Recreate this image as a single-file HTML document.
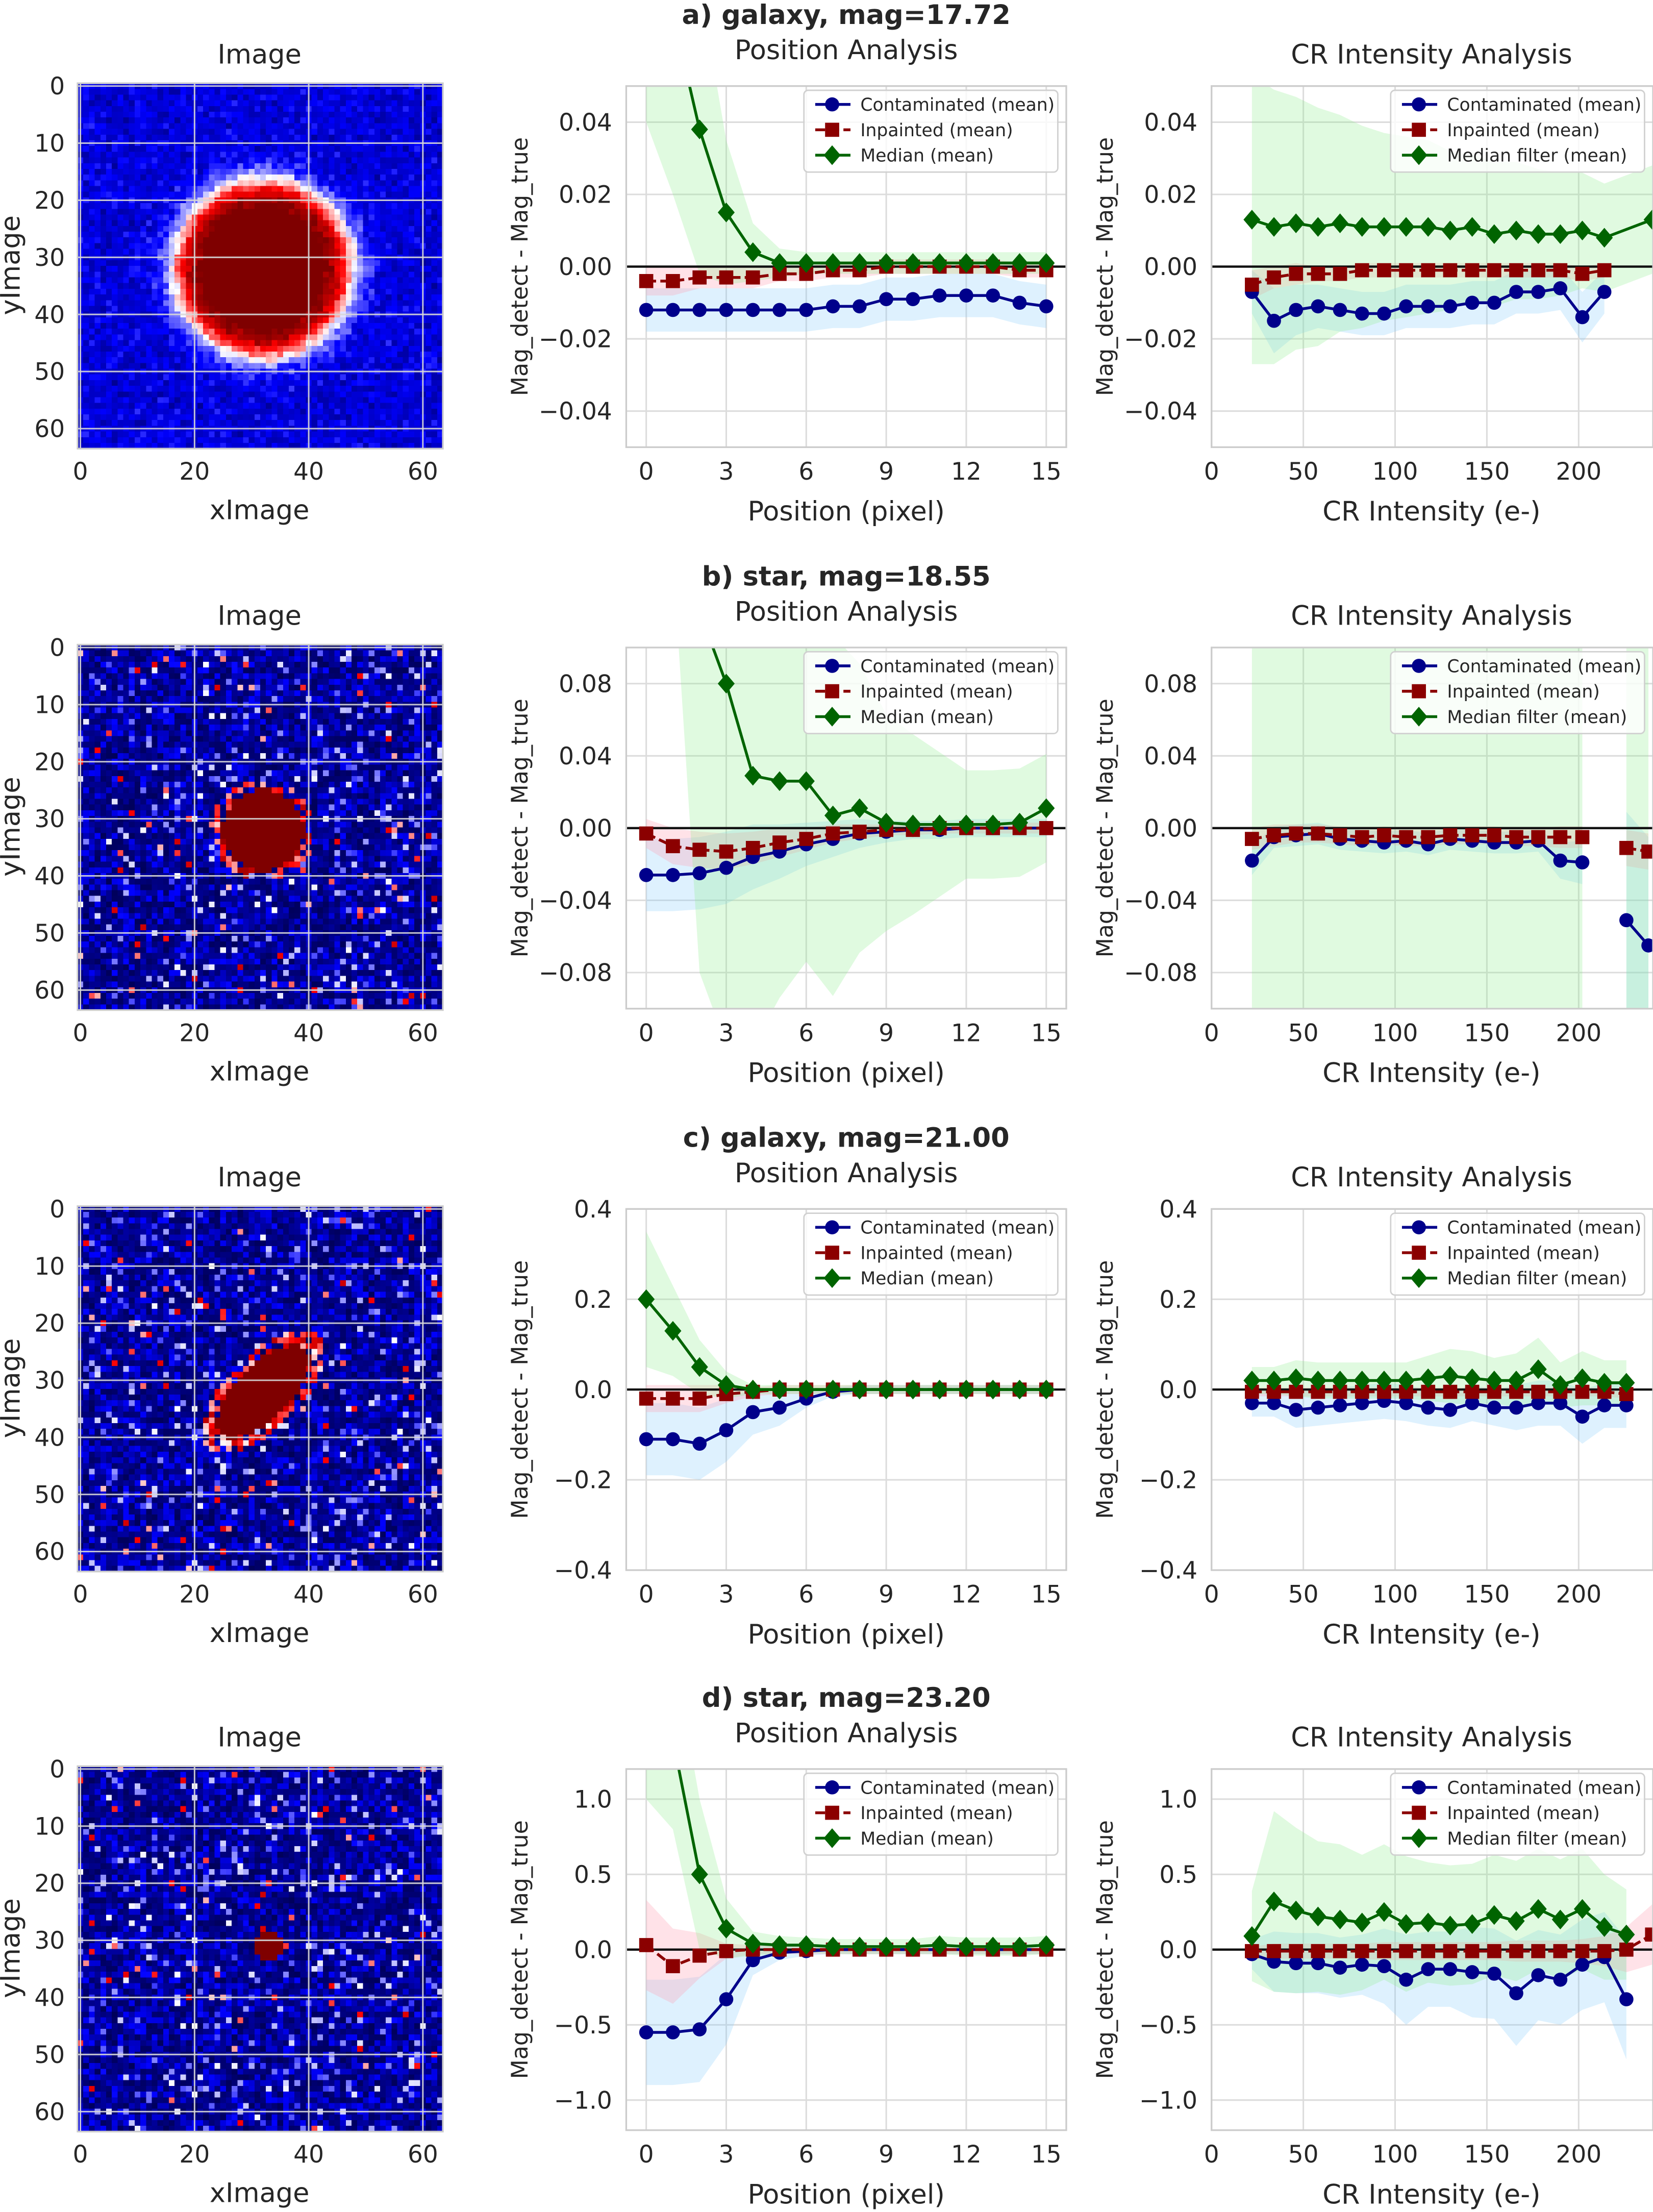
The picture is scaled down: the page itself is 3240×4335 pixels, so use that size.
<!DOCTYPE html>
<html><head><meta charset="utf-8">
<style>
html,body{margin:0;padding:0;background:#fff;}
#root{position:relative;width:1172px;height:1568px;transform:scale(2.76451,2.76467);transform-origin:0 0;overflow:hidden;}
canvas{position:absolute;image-rendering:pixelated;}
svg{position:absolute;left:0;top:0;}
text{font-family:"DejaVu Sans","Liberation Sans",sans-serif;fill:#262626;}
</style></head>
<body>
<div id="root">
<svg id="svg" width="1172" height="1568" viewBox="0 0 1172 1568"></svg>
</div>
<script>
// ---------- data ----------
const rowTitles = ["a) galaxy, mag=17.72","b) star, mag=18.55","c) galaxy, mag=21.00","d) star, mag=23.20"];
const posX = [0,1,2,3,4,5,6,7,8,9,10,11,12,13,14,15];
const posTicks = [0,3,6,9,12,15];
const crTicks = [0,50,100,150,200];
const imgTicksX = [0,20,40,60];
const imgTicksY = [0,10,20,30,40,50,60];
const yLims = [0.05,0.1,0.4,1.2];
const yTicksA = [0.04,0.02,0,-0.02,-0.04];
const yTicksB = [0.08,0.04,0,-0.04,-0.08];
const yTicksC = [0.4,0.2,0,-0.2,-0.4];
const yTicksD = [1.0,0.5,0,-0.5,-1.0];
const yTickLabelsA = ["0.04","0.02","0.00","−0.02","−0.04"];
const yTickLabelsB = ["0.08","0.04","0.00","−0.04","−0.08"];
const yTickLabelsC = ["0.4","0.2","0.0","−0.2","−0.4"];
const yTickLabelsD = ["1.0","0.5","0.0","−0.5","−1.0"];

// row a position
const aPosCont = [-0.012,-0.012,-0.012,-0.012,-0.012,-0.012,-0.012,-0.011,-0.011,-0.009,-0.009,-0.008,-0.008,-0.008,-0.010,-0.011];
const aPosInp  = [-0.004,-0.004,-0.003,-0.003,-0.003,-0.002,-0.002,-0.001,-0.001,0,0,0,0,0,-0.001,-0.001];
const aPosMed  = [0.10,0.07,0.038,0.015,0.004,0.001,0.001,0.001,0.001,0.001,0.001,0.001,0.001,0.001,0.001,0.001];
const aPosContS = [0.006,0.006,0.006,0.006,0.006,0.006,0.006,0.006,0.006,0.006,0.006,0.006,0.006,0.006,0.006,0.006];
const aPosInpS  = [0.004,0.004,0.003,0.003,0.003,0.002,0.002,0.002,0.002,0.002,0.002,0.002,0.002,0.002,0.002,0.002];
const aPosMedS  = [0.06,0.05,0.04,0.02,0.008,0.004,0.003,0.003,0.003,0.003,0.003,0.003,0.003,0.003,0.003,0.003];
// row a cr
const aCrX   = [22,34,46,58,70,82,94,106,118,130,142,154,166,178,190,202,214,240];
const aCrCont= [-0.007,-0.015,-0.012,-0.011,-0.012,-0.013,-0.013,-0.011,-0.011,-0.011,-0.010,-0.010,-0.007,-0.007,-0.006,-0.014,-0.007,NaN];
const aCrInp = [-0.005,-0.003,-0.002,-0.002,-0.002,-0.001,-0.001,-0.001,-0.001,-0.001,-0.001,-0.001,-0.001,-0.001,-0.001,-0.002,-0.001,NaN];
const aCrMed = [0.013,0.011,0.012,0.011,0.012,0.011,0.011,0.011,0.011,0.010,0.011,0.009,0.010,0.009,0.009,0.010,0.008,0.013];
const aCrContS=[0.006,0.009,0.007,0.006,0.006,0.006,0.006,0.006,0.006,0.006,0.006,0.006,0.006,0.006,0.006,0.007,0.006,NaN];
const aCrInpS= [0.004,0.003,0.003,0.002,0.002,0.002,0.002,0.002,0.002,0.002,0.002,0.002,0.002,0.002,0.002,0.002,0.002,NaN];
const aCrMedS= [0.04,0.038,0.035,0.033,0.03,0.028,0.026,0.025,0.024,0.022,0.02,0.02,0.019,0.018,0.017,0.016,0.015,0.015];
// row b position
const bPosCont = [-0.026,-0.026,-0.025,-0.022,-0.016,-0.013,-0.009,-0.006,-0.003,-0.002,-0.001,-0.001,0,0,0,0];
const bPosInp  = [-0.003,-0.010,-0.012,-0.013,-0.011,-0.008,-0.006,-0.003,-0.002,-0.001,-0.001,0,0,0,0,0];
const bPosMed  = [0.20,0.15,0.12,0.080,0.029,0.026,0.026,0.007,0.011,0.003,0.002,0.002,0.002,0.002,0.003,0.011];
const bPosContS = [0.02,0.02,0.02,0.02,0.018,0.015,0.012,0.01,0.008,0.006,0.005,0.005,0.005,0.005,0.005,0.005];
const bPosInpS  = [0.008,0.010,0.010,0.010,0.009,0.008,0.006,0.005,0.004,0.003,0.003,0.003,0.003,0.003,0.003,0.003];
const bPosMedS  = [0,0,0.2,0.2,0.15,0.12,0.1,0.1,0.08,0.06,0.05,0.04,0.03,0.03,0.03,0.03];
// row b cr
const bCrX   = [22,34,46,58,70,82,94,106,118,130,142,154,166,178,190,202,214,226,238];
const bCrCont= [-0.018,-0.005,-0.004,-0.003,-0.006,-0.007,-0.008,-0.007,-0.009,-0.006,-0.007,-0.008,-0.008,-0.007,-0.018,-0.019,NaN,-0.051,-0.065];
const bCrInp = [-0.006,-0.004,-0.003,-0.003,-0.004,-0.005,-0.004,-0.005,-0.005,-0.004,-0.004,-0.004,-0.005,-0.005,-0.005,-0.005,NaN,-0.011,-0.013];
const bCrMed = [0.3,0.3,0.3,0.3,0.3,0.3,0.3,0.3,0.3,0.3,0.3,0.3,0.3,0.3,0.3,0.3,NaN,0.3,0.3];
const bCrContS=[0.008,0.006,0.006,0.006,0.006,0.006,0.006,0.006,0.006,0.006,0.006,0.006,0.006,0.006,0.01,0.012,NaN,0.06,0.06];
const bCrInpS= [0.006,0.006,0.005,0.005,0.005,0.005,0.005,0.005,0.005,0.005,0.005,0.005,0.005,0.005,0.006,0.006,NaN,0.01,0.01];
const bCrMedS= [1,1,1,1,1,1,1,1,1,1,1,1,1,1,1,1,NaN,1,1];
// row c position
const cPosCont = [-0.11,-0.11,-0.12,-0.09,-0.05,-0.04,-0.02,-0.005,0,0,0,0,0,0,0,0];
const cPosInp  = [-0.02,-0.02,-0.02,-0.01,-0.005,0,0,0,0,0,0,0,0,0,0,0];
const cPosMed  = [0.20,0.13,0.05,0.01,0,0,0,0,0,0,0,0,0,0,0,0];
const cPosContS = [0.08,0.08,0.08,0.07,0.05,0.04,0.02,0.01,0.01,0.01,0.01,0.01,0.01,0.01,0.01,0.01];
const cPosInpS  = [0.03,0.03,0.03,0.02,0.01,0.01,0.01,0.01,0.01,0.01,0.01,0.01,0.01,0.01,0.01,0.01];
const cPosMedS  = [0.15,0.1,0.06,0.03,0.01,0.01,0.01,0.01,0.01,0.01,0.01,0.01,0.01,0.01,0.01,0.01];
// row c cr
const cCrX   = [22,34,46,58,70,82,94,106,118,130,142,154,166,178,190,202,214,226];
const cCrCont= [-0.03,-0.03,-0.045,-0.04,-0.035,-0.03,-0.025,-0.03,-0.04,-0.045,-0.03,-0.04,-0.04,-0.03,-0.03,-0.06,-0.035,-0.035];
const cCrInp = [-0.005,-0.005,-0.005,-0.005,-0.005,-0.005,-0.005,-0.005,-0.005,-0.005,-0.005,-0.005,-0.005,-0.005,-0.005,-0.005,-0.005,-0.01];
const cCrMed = [0.02,0.02,0.025,0.02,0.02,0.02,0.02,0.02,0.025,0.03,0.025,0.02,0.02,0.045,0.01,0.025,0.015,0.015];
const cCrContS=[0.03,0.03,0.04,0.04,0.04,0.04,0.04,0.04,0.04,0.04,0.04,0.04,0.05,0.05,0.05,0.06,0.05,0.05];
const cCrInpS= [0.01,0.01,0.01,0.01,0.01,0.01,0.01,0.01,0.01,0.01,0.01,0.01,0.01,0.01,0.01,0.01,0.01,0.01];
const cCrMedS= [0.03,0.03,0.04,0.04,0.04,0.04,0.04,0.04,0.05,0.06,0.06,0.05,0.06,0.07,0.05,0.06,0.05,0.05];
// row d position
const dPosCont = [-0.55,-0.55,-0.53,-0.33,-0.07,-0.02,-0.01,0,0,0,0,0,0,0,0,0];
const dPosInp  = [0.03,-0.11,-0.04,-0.01,0,0,0,0,0,0,0,0,0,0,0,0];
const dPosMed  = [1.6,1.4,0.50,0.14,0.04,0.03,0.03,0.02,0.02,0.02,0.02,0.03,0.02,0.02,0.02,0.03];
const dPosContS = [0.35,0.35,0.35,0.3,0.1,0.05,0.03,0.03,0.03,0.03,0.03,0.03,0.03,0.03,0.03,0.03];
const dPosInpS  = [0.3,0.25,0.15,0.05,0.03,0.03,0.03,0.03,0.03,0.03,0.03,0.03,0.03,0.03,0.03,0.03];
const dPosMedS  = [0.6,0.6,0.5,0.2,0.08,0.06,0.05,0.05,0.05,0.05,0.05,0.06,0.06,0.06,0.06,0.06];
// row d cr
const dCrX   = [22,34,46,58,70,82,94,106,118,130,142,154,166,178,190,202,214,226,240];
const dCrCont= [-0.03,-0.08,-0.09,-0.09,-0.12,-0.10,-0.11,-0.20,-0.13,-0.13,-0.15,-0.16,-0.29,-0.17,-0.20,-0.10,-0.05,-0.33,NaN];
const dCrInp = [-0.01,-0.01,-0.01,-0.01,-0.01,-0.01,-0.01,-0.01,-0.01,-0.01,-0.01,-0.01,-0.01,-0.01,-0.01,-0.01,-0.01,0.0,0.10];
const dCrMed = [0.09,0.32,0.26,0.22,0.20,0.18,0.25,0.17,0.18,0.16,0.17,0.23,0.19,0.27,0.20,0.27,0.15,0.10,NaN];
const dCrContS=[0.1,0.2,0.2,0.2,0.2,0.2,0.25,0.3,0.25,0.25,0.3,0.3,0.35,0.3,0.3,0.3,0.3,0.4,NaN];
const dCrInpS= [0.03,0.05,0.05,0.05,0.05,0.05,0.06,0.06,0.06,0.06,0.06,0.06,0.07,0.07,0.07,0.08,0.1,0.15,0.2];
const dCrMedS= [0.3,0.6,0.55,0.5,0.5,0.45,0.45,0.45,0.4,0.4,0.4,0.4,0.4,0.4,0.4,0.4,0.35,0.3,NaN];

// ---------- drawing ----------
const NS="http://www.w3.org/2000/svg";
const svg=document.getElementById('svg');
const root=document.getElementById('root');
function el(tag,attrs,parent){const e=document.createElementNS(NS,tag);for(const k in attrs)e.setAttribute(k,attrs[k]);(parent||svg).appendChild(e);return e;}
function txt(x,y,s,size,anchor,parent,extra){const t=el('text',Object.assign({x:x,y:y,'font-size':size,'text-anchor':anchor||'middle'},extra||{}),parent);t.textContent=s;return t;}
const ROWY=[0,398,796,1193];
const C_BLUE="#00008b",C_RED="#8b0000",C_GREEN="#006400";
let clipId=0;

function axes(x0,y0,w,h,xlim,ylim,xt,xtl,yt,ytl,name){
  const g=el('g',{});
  
  
  const sx=v=>x0+(v-xlim[0])/(xlim[1]-xlim[0])*w;
  const sy=v=>y0+h-(v-ylim[0])/(ylim[1]-ylim[0])*h;
  el('rect',{x:x0,y:y0,width:w,height:h,fill:'#fff'},g);
  xt.forEach((v,i)=>{el('line',{x1:sx(v),x2:sx(v),y1:y0,y2:y0+h,stroke:'#dcdcdc','stroke-width':1.1},g);
    const t=txt(sx(v),y0+h+23,xtl[i],17,'middle',g);});
  yt.forEach((v,i)=>{el('line',{x1:x0,x2:x0+w,y1:sy(v),y2:sy(v),stroke:'#dcdcdc','stroke-width':1.1},g);
    const t=txt(x0-10,sy(v)+6,ytl[i],17,'end',g);});
  const id='c'+(clipId++);
  const cp=el('clipPath',{id:id},g);el('rect',{x:x0,y:y0,width:w,height:h},cp);
  const inner=el('g',{'clip-path':'url(#'+id+')'},g);
  return {g,inner,sx,sy,x0,y0,w,h};
}
function frame(a){el('rect',{x:a.x0,y:a.y0,width:a.w,height:a.h,fill:'none',stroke:'#cccccc','stroke-width':1.2},a.g);}

function band(a,xs,m,s,fill,name){
  let seg=[];const segs=[];
  xs.forEach((x,i)=>{if(isNaN(m[i])||isNaN(s[i])){if(seg.length)segs.push(seg);seg=[];}else seg.push(i);});
  if(seg.length)segs.push(seg);
  segs.forEach(sg=>{
    let d='';sg.forEach((i,k)=>{d+=(k?'L':'M')+a.sx(xs[i])+','+a.sy(m[i]+s[i]);});
    for(let k=sg.length-1;k>=0;k--){const i=sg[k];d+='L'+a.sx(xs[i])+','+a.sy(m[i]-s[i]);}
    const p=el('path',{d:d+'Z',fill:fill,stroke:'none'},a.inner);
    
  });
}
function series(a,xs,m,color,marker,dash,name){
  let seg=[];const segs=[];
  xs.forEach((x,i)=>{if(isNaN(m[i])){if(seg.length)segs.push(seg);seg=[];}else seg.push(i);});
  if(seg.length)segs.push(seg);
  segs.forEach(sg=>{
    const pts=sg.map(i=>a.sx(xs[i])+','+a.sy(m[i])).join(' ');
    const l=el('polyline',{points:pts,fill:'none',stroke:color,'stroke-width':2,'stroke-dasharray':dash?'7,3':'none'},a.inner);
    
  });
  xs.forEach((x,i)=>{if(isNaN(m[i]))return;const X=a.sx(x),Y=a.sy(m[i]);let mk;
    if(marker==='o')mk=el('circle',{cx:X,cy:Y,r:5,fill:color},a.inner);
    else if(marker==='s')mk=el('rect',{x:X-5,y:Y-5,width:10,height:10,fill:color},a.inner);
    else mk=el('path',{d:`M${X},${Y-7}L${X+6},${Y}L${X},${Y+7}L${X-6},${Y}Z`,fill:color},a.inner);
    
  });
}
function legend(a,labels){
  const lx=a.x0+a.w-186, ly=a.y0+3;
  const g=el('g',{},a.g);
  
  el('rect',{x:lx,y:ly,width:180,height:58,rx:3,fill:'rgba(255,255,255,0.8)',stroke:'#d0d0d0','stroke-width':1},g);
  const cols=[C_BLUE,C_RED,C_GREEN],mk=['o','s','d'];
  labels.forEach((lab,i)=>{const y=ly+10+18*i;const x1=lx+8,x2=lx+33,xm=lx+20;
    const e=el('g',{},g);
    el('line',{x1:x1,x2:x2,y1:y,y2:y,stroke:cols[i],'stroke-width':2,'stroke-dasharray':i===1?'7,3':'none'},e);
    if(mk[i]==='o')el('circle',{cx:xm,cy:y,r:5,fill:cols[i]},e);
    else if(mk[i]==='s')el('rect',{x:xm-5,y:y-5,width:10,height:10,fill:cols[i]},e);
    else el('path',{d:`M${xm},${y-7}L${xm+6},${y}L${xm},${y+7}L${xm-6},${y}Z`,fill:cols[i]},e);
    txt(lx+40,y+4.5,lab,12.5,'start',e);
  });
}

// seismic colormap
function seismic(v){v=Math.max(0,Math.min(1,v));let r,g,b;
  if(v<0.25){r=0;g=0;b=0.3+0.7*v/0.25;}
  else if(v<0.5){const t=(v-0.25)/0.25;r=t;g=t;b=1;}
  else if(v<0.75){const t=(v-0.5)/0.25;r=1;g=1-t;b=1-t;}
  else {const t=(v-0.75)/0.25;r=1-0.5*t;g=0;b=0;}
  return [r*255|0,g*255|0,b*255|0];}
let seed=12345;function rnd(){seed=(seed*1103515245+12345)%2147483648;return seed/2147483648;}
function makeImage(row,kind){
  const c=document.createElement('canvas');c.width=64;c.height=64;
  
  c.style.left='55px';c.style.top=(59+ROWY[row])+'px';c.style.width='259px';c.style.height='259px';
  const ctx=c.getContext('2d');const im=ctx.createImageData(64,64);
  for(let j=0;j<64;j++)for(let i=0;i<64;i++){
    let v;const dx=i-32,dy=j-32,r=Math.hypot(dx,dy);
    if(kind==='galA'){v=0.15+0.1*rnd();if(r<11)v=1;else v+=0.78*Math.exp(-Math.pow((r-11)/5,2))+0.1*(rnd()-0.5);}
    else{
      const q=rnd();v=q<0.6?0.02+0.1*rnd():(q<0.9?0.14+0.12*rnd():(q<0.98?0.3+0.2*rnd():0.55+0.3*rnd()));
      if(kind==='starB'){if(r<7.2)v=1;else if(r<9&&rnd()<0.6)v=0.55+0.4*rnd();}
      if(kind==='galC'){const u=(dx-dy)/Math.SQRT2,w=(dx+dy)/Math.SQRT2;const e=Math.hypot(u/11,w/5);
        if(e<0.95)v=1;else if(e<1.25&&rnd()<0.7)v=0.5+0.4*rnd();}
      if(kind==='starD'){const rr=Math.hypot(i-33,j-31);if(rr<2.3)v=1;}
    }
    const [R,G,B]=seismic(v);const k=(j*64+i)*4;im.data[k]=R;im.data[k+1]=G;im.data[k+2]=B;im.data[k+3]=255;}
  ctx.putImageData(im,0,0);root.insertBefore(c,svg);
}

const rows=[
 {kind:'galA',yl:yTicksA,ytl:yTickLabelsA,pos:[aPosCont,aPosInp,aPosMed,aPosContS,aPosInpS,aPosMedS],cr:[aCrX,aCrCont,aCrInp,aCrMed,aCrContS,aCrInpS,aCrMedS]},
 {kind:'starB',yl:yTicksB,ytl:yTickLabelsB,pos:[bPosCont,bPosInp,bPosMed,bPosContS,bPosInpS,bPosMedS],cr:[bCrX,bCrCont,bCrInp,bCrMed,bCrContS,bCrInpS,bCrMedS]},
 {kind:'galC',yl:yTicksC,ytl:yTickLabelsC,pos:[cPosCont,cPosInp,cPosMed,cPosContS,cPosInpS,cPosMedS],cr:[cCrX,cCrCont,cCrInp,cCrMed,cCrContS,cCrInpS,cCrMedS]},
 {kind:'starD',yl:yTicksD,ytl:yTickLabelsD,pos:[dPosCont,dPosInp,dPosMed,dPosContS,dPosInpS,dPosMedS],cr:[dCrX,dCrCont,dCrInp,dCrMed,dCrContS,dCrInpS,dCrMedS]}
];
const BL='rgba(135,206,250,0.28)',RD='rgba(255,160,180,0.3)',GR='rgba(144,238,144,0.28)';

rows.forEach((R,r)=>{
  const dy=ROWY[r];const L=yLims[r];
  let t=txt(600,17+dy,rowTitles[r],19,'middle',null,{'font-weight':'bold'});
  t=txt(600,42+dy,'Position Analysis',19);
  t=txt(184,45+dy,'Image',19);
  t=txt(1015,45+dy,'CR Intensity Analysis',19);
  // image panel
  makeImage(r,R.kind);
  const ig=el('g',{});
  const ix=v=>57+v*4.047, iy=v=>61+dy+v*4.047;
  imgTicksX.forEach(v=>{el('line',{x1:ix(v),x2:ix(v),y1:59+dy,y2:318+dy,stroke:'rgba(215,215,215,0.9)','stroke-width':1.1},ig);txt(ix(v),340+dy,String(v),17,'middle',ig);});
  imgTicksY.forEach(v=>{el('line',{x1:55,x2:314,y1:iy(v),y2:iy(v),stroke:'rgba(215,215,215,0.9)','stroke-width':1.1},ig);txt(46,iy(v)+6,String(v),17,'end',ig);});
  el('rect',{x:55,y:59+dy,width:259,height:259,fill:'none',stroke:'#ccc','stroke-width':1.2},ig);
  t=txt(184,368+dy,'xImage',19,'middle',ig);
  t=txt(0,0,'yImage',19,'middle',ig,{transform:`translate(14,${188+dy}) rotate(-90)`});
  // position panel
  const a=axes(444,61+dy,312,256,[-0.75,15.75],[-L,L],posTicks,posTicks.map(String),R.yl,R.ytl,'position-axes');
  const P=R.pos;
  band(a,posX,P[0],P[3],BL,'contaminated-band');band(a,posX,P[1],P[4],RD,'inpainted-band');band(a,posX,P[2],P[5],GR,'median-band');
  el('line',{x1:a.x0,x2:a.x0+a.w,y1:a.sy(0),y2:a.sy(0),stroke:'#111','stroke-width':1.6},a.inner);
  series(a,posX,P[0],C_BLUE,'o',false,'contaminated');series(a,posX,P[1],C_RED,'s',true,'inpainted');series(a,posX,P[2],C_GREEN,'d',false,'median');
  frame(a);legend(a,['Contaminated (mean)','Inpainted (mean)','Median (mean)']);
  t=txt(600,369+dy,'Position (pixel)',19,'middle',a.g);
  t=txt(0,0,'Mag_detect - Mag_true',16,'middle',a.g,{transform:`translate(374,${189+dy}) rotate(-90)`});
  // cr panel
  const b=axes(859,61+dy,313,256,[0,240.5],[-L,L],crTicks,crTicks.map(String),R.yl,R.ytl,'cr-intensity-axes');
  const Q=R.cr;
  band(b,Q[0],Q[1],Q[4],BL,'contaminated-band');band(b,Q[0],Q[2],Q[5],RD,'inpainted-band');band(b,Q[0],Q[3],Q[6],GR,'median-band');
  el('line',{x1:b.x0,x2:b.x0+b.w,y1:b.sy(0),y2:b.sy(0),stroke:'#111','stroke-width':1.6},b.inner);
  series(b,Q[0],Q[1],C_BLUE,'o',false,'contaminated');series(b,Q[0],Q[2],C_RED,'s',true,'inpainted');series(b,Q[0],Q[3],C_GREEN,'d',false,'median-filter');
  frame(b);legend(b,['Contaminated (mean)','Inpainted (mean)','Median filter (mean)']);
  t=txt(1015,369+dy,'CR Intensity (e-)',19,'middle',b.g);
  t=txt(0,0,'Mag_detect - Mag_true',16,'middle',b.g,{transform:`translate(789,${189+dy}) rotate(-90)`});
});
</script>
</body></html>
